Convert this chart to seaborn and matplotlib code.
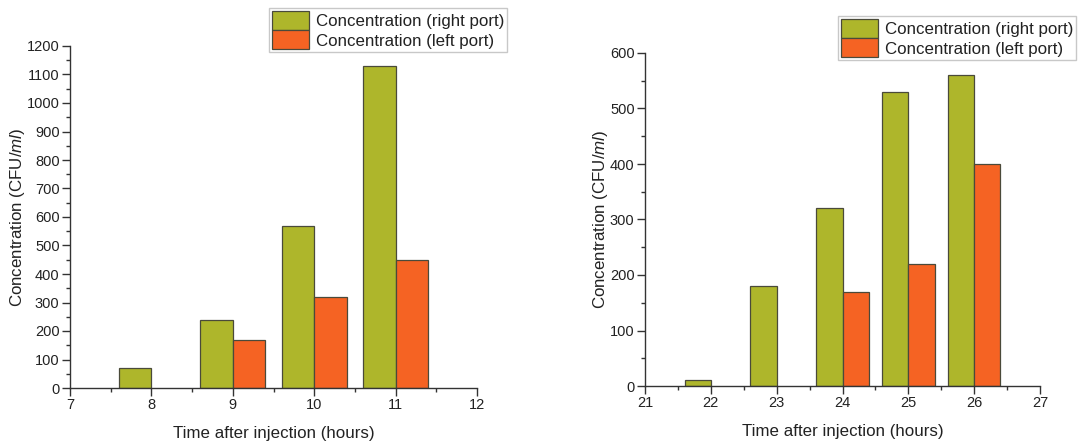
import matplotlib
matplotlib.use("Agg")
import matplotlib.pyplot as plt
import seaborn as sns
import pandas as pd
import numpy as np
from matplotlib.ticker import MultipleLocator
from matplotlib.patches import Patch

# Data
times_a = [8, 9, 10, 11]
right_a = [70, 240, 570, 1130]
left_a = [np.nan, 170, 320, 450]

times_b = [22, 23, 24, 25, 26]
right_b = [10, 180, 320, 530, 560]
left_b = [np.nan, np.nan, 170, 220, 400]

series_names = ["Concentration (right port)", "Concentration (left port)"]
colors = ["#AEB62B", "#F56323"]

sns.set_style("white")
plt.rcParams['font.family'] = ['Liberation Sans', 'DejaVu Sans']
plt.rcParams['mathtext.fontset'] = 'custom'
plt.rcParams['mathtext.it'] = 'Liberation Sans:italic'
plt.rcParams['mathtext.rm'] = 'Liberation Sans'

fig = plt.figure(figsize=(10.92, 4.44), dpi=100)
W, H = 1092, 444
ax1 = fig.add_axes([70 / W, 1 - 388 / H, (477 - 70) / W, (388 - 46) / H])
ax2 = fig.add_axes([645 / W, 1 - 386 / H, (1040 - 645) / W, (386 - 53) / H])


def make_df(times, r, l):
    return pd.DataFrame({
        "time": list(times) + list(times),
        "value": list(r) + list(l),
        "series": [series_names[0]] * len(times) + [series_names[1]] * len(times),
    })


def draw(ax, times, r, l, xlim, ylim, ymajor, legend_box):
    df = make_df(times, r, l).dropna()
    sns.barplot(data=df, x="time", y="value", hue="series", hue_order=series_names,
                palette=colors, native_scale=True, width=0.8, dodge=True,
                edgecolor="#4a4a3a", linewidth=0.9, errorbar=None, ax=ax, legend=False,
                saturation=1)
    ax.set_xlim(*xlim)
    ax.set_ylim(*ylim)
    ax.xaxis.set_major_locator(MultipleLocator(1))
    ax.xaxis.set_minor_locator(MultipleLocator(0.5))
    ax.yaxis.set_major_locator(MultipleLocator(ymajor))
    ax.yaxis.set_minor_locator(MultipleLocator(ymajor / 2))
    for s in ["top", "right"]:
        ax.spines[s].set_visible(False)
    for s in ["left", "bottom"]:
        ax.spines[s].set_color("#333333")
        ax.spines[s].set_linewidth(1.0)
    ax.tick_params(which="major", direction="out", length=5.5, width=1, color="#333333",
                   labelsize=10.5, labelcolor="#222222", bottom=True, left=True, pad=2)
    ax.tick_params(which="minor", direction="out", length=3, width=1, color="#333333",
                   bottom=True, left=True)
    ax.set_xlabel("Time after injection (hours)", fontsize=12.2, color="#222222", labelpad=10)
    ax.set_ylabel("Concentration (CFU/$\\it{ml}$)", fontsize=12.2, color="#222222", labelpad=0)
    handles = [Patch(facecolor=c, edgecolor="#4a4a3a", linewidth=0.9) for c in colors]
    x0, y0, x1, y1 = legend_box
    leg = fig.legend(handles, series_names, loc="upper left",
                     bbox_to_anchor=(x0 / W, 1 - y0 / H), fontsize=12.2,
                     frameon=True, fancybox=False, edgecolor="#bbbbbb",
                     borderpad=0.15, labelspacing=0.05, handlelength=2.2, handleheight=1.35,
                     handletextpad=0.4, borderaxespad=0)
    leg.get_frame().set_linewidth(1.0)
    for t in leg.get_texts():
        t.set_color("#222222")


draw(ax1, times_a, right_a, left_a, (7, 12), (0, 1200), 100, (269, 8, 505, 54))
draw(ax2, times_b, right_b, left_b, (21, 27), (0, 600), 100, (838, 16, 1068, 61))

fig.savefig("out.png", dpi=100)
